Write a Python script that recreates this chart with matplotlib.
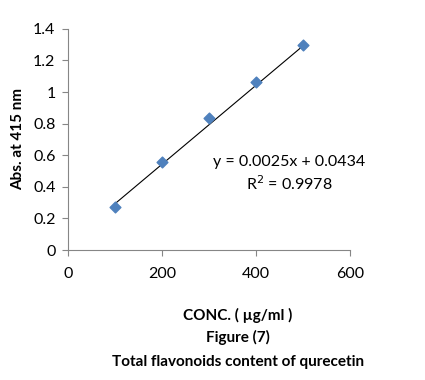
import numpy as np
import matplotlib.pyplot as plt

plt.rcParams['font.family'] = ['Lato', 'DejaVu Sans']

# concentration (ug/ml) and absorbance
conc = [100, 200, 300, 400, 500]
absorbance = [0.275, 0.555, 0.835, 1.062, 1.297]
slope = 0.0025
intercept = 0.0434
x_ticks = [0, 200, 400, 600]
y_ticks = [0, 0.2, 0.4, 0.6, 0.8, 1, 1.2, 1.4]

fig = plt.figure(figsize=(4.25, 3.8), dpi=100)
ax = fig.add_axes([0.16, 0.342, 0.664, 0.582])

ax.scatter(conc, absorbance, marker='D', s=30, color='#4F81BD', zorder=3)
fit_x = np.array([conc[0], conc[-1]])
ax.plot(fit_x, slope * fit_x + intercept, color='black', lw=0.8, zorder=2)

ax.set_xlim(0, 600)
ax.set_ylim(0, 1.4)
ax.set_xticks(x_ticks)
ax.set_yticks(y_ticks)
ax.set_yticklabels(['0', '0.2', '0.4', '0.6', '0.8', '1', '1.2', '1.4'])
for s in ['top', 'right']:
    ax.spines[s].set_visible(False)
for s in ['left', 'bottom']:
    ax.spines[s].set_color('#868686')
ax.tick_params(colors='#868686', labelcolor='black', labelsize=11.5, length=4)
ax.tick_params(axis='x', pad=8)
ax.tick_params(axis='y', pad=5)

ax.set_ylabel('Abs. at 415 nm', fontsize=11, fontweight='bold', labelpad=6)
ax.text(470, 0.555, 'y = 0.0025x + 0.0434', ha='center', va='center', fontsize=11.5)
ax.text(470, 0.42, 'R$^2$ = 0.9978', ha='center', va='center', fontsize=11.5)

fig.text(0.56, 0.17, 'CONC. ( µg/ml )', ha='center', va='center', fontsize=11, fontweight='bold')
fig.text(0.56, 0.113, 'Figure (7)', ha='center', va='center', fontsize=11, fontweight='bold')
fig.text(0.56, 0.047, 'Total flavonoids content of qurecetin', ha='center', va='center', fontsize=11, fontweight='bold')

fig.savefig('out.png', dpi=100)
